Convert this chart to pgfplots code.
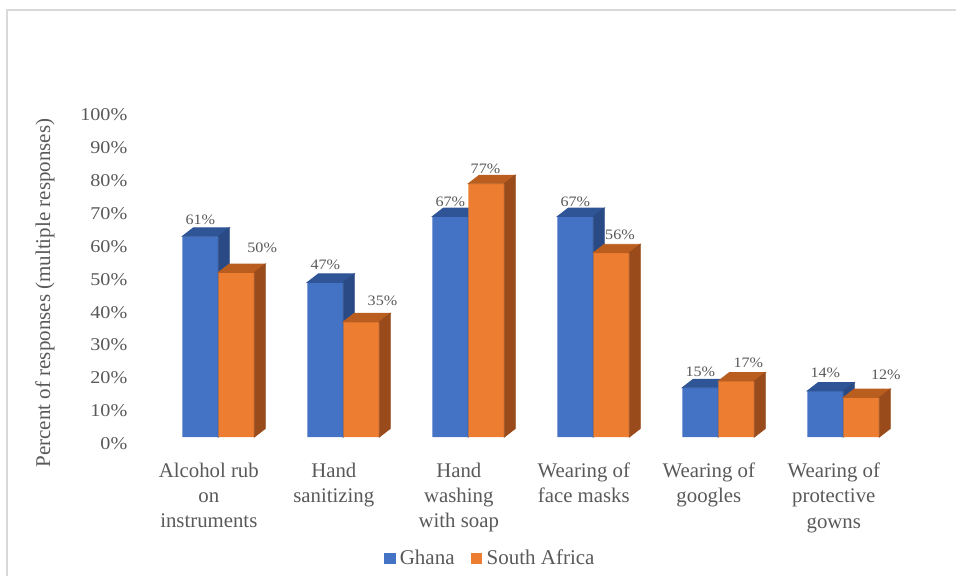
\documentclass[border=0pt]{standalone}
\usepackage{pgfplots}
\usepackage{pgfplotstable}
\usepackage{fontspec}
\pgfplotsset{compat=1.18}
\setmainfont{Liberation Serif}
\newfontfamily\numfont{Liberation Serif}[FakeStretch=1.12]

\definecolor{txtgray}{HTML}{595959}
\definecolor{gfront}{HTML}{4472C4}
\definecolor{gtop}{HTML}{2F5597}
\definecolor{gside}{HTML}{2A4A85}
\definecolor{sfront}{HTML}{ED7D31}
\definecolor{stop}{HTML}{BA5E20}
\definecolor{sside}{HTML}{994B1B}
\definecolor{framegray}{HTML}{D9D9D9}

% v: percent of responses; lx, ly: position of the value label (pt)
% relative to the centre of the bar's front top edge
\pgfplotstableread{
x v  lx    ly
0 61 0     8.3
1 47 0     8.55
2 67 0     7.3
3 67 0     7.3
4 15 0     8.0
5 14 0     9.2
}\ghana
\pgfplotstableread{
x v  lx    ly
0 50 12.95 12.25
1 35 10.6  10.7
2 77 -0.4  7.35
3 56 4.35  8.75
4 17 6.0   9.3
5 12 12.25 11.5
}\safrica

\pgfplotsset{
  /pgf/number format/assume math mode=true,
  % top and right faces of a box-shaped bar: #1 bar shift, #2 top colour, #3 side colour
  bar sides/.style n args={3}{%
    forget plot, scatter, only marks, mark=*, mark size=0pt, point meta=y,
    mark options={draw=none,fill=none},
    visualization depends on={\thisrow{v} \as \barval},
    scatter/@pre marker code/.code={%
      \pgfmathsetlengthmacro\barh{\barval*1.645pt}%
      \fill[#2] ({#1-9pt},0pt) -- ({#1+9pt},0pt) -- ({#1+14.5pt},4.25pt)
                -- ({#1-3.5pt},4.25pt) -- cycle;
      \fill[#3] ({#1+9pt},0pt) -- ({#1+14.5pt},4.25pt) -- ({#1+14.5pt},{4.25pt-\barh})
                -- ({#1+9pt},-\barh) -- cycle;
    },
    scatter/@post marker code/.code={},
  },
  % value labels above the bars: #1 bar shift
  bar labels/.style={%
    forget plot, scatter, only marks, mark=*, mark size=0pt, point meta=y,
    mark options={draw=none,fill=none},
    visualization depends on={\thisrow{v} \as \barval},
    visualization depends on={\thisrow{lx} \as \labx},
    visualization depends on={\thisrow{ly} \as \laby},
    scatter/@pre marker code/.code={%
      \node[font=\numfont\fontsize{7.2}{8}\selectfont, text=txtgray, inner sep=0pt]
        at ({#1+\labx pt},{\laby pt}) {\pgfmathprintnumber{\barval}\%};
    },
    scatter/@post marker code/.code={},
  },
}

\begin{document}
\begin{tikzpicture}
\begin{axis}[
  anchor=origin, at={(0pt,0pt)},
  x=62.5pt, y=1.645pt,
  xmin=-0.6, xmax=5.6, ymin=0, ymax=100,
  clip=false, clip marker paths=true,
  axis line style={draw=none},
  major tick length=0pt,
  xtick={0,...,5},
  xticklabels={{Alcohol rub\\on\\instruments},{Hand\\sanitizing},{Hand\\washing\\with soap},
                {Wearing of\\face masks},{Wearing of\\googles},{Wearing of\\protective\\gowns}},
  xticklabel style={align=center, font=\fontsize{10.4}{12.6}\selectfont, text=txtgray,
                    inner sep=0pt, yshift=-12.85pt},
  ytick={0,10,...,100},
  yticklabel={\pgfmathprintnumber{\tick}\%},
  yticklabel style={font=\numfont\fontsize{9}{11}\selectfont, text=txtgray,
                    inner sep=0pt, xshift=-3.05pt, yshift=-3.4pt},
  ylabel={Percent of responses (multiple responses)},
  ylabel style={at={(axis cs:-1.3104,43.77)}, anchor=center,
                font=\fontsize{10.5}{12}\selectfont, text=txtgray, inner sep=0pt},
  legend columns=2,
  legend style={at={(axis cs:2.262,-36.93)}, anchor=center, draw=none, fill=none,
                inner sep=0pt, font=\fontsize{10.5}{12}\selectfont, text=txtgray,
                nodes={inner sep=2.2pt},
                /tikz/every even column/.append style={column sep=6pt}},
]
% Ghana
\addplot[ybar, bar width=18pt, bar shift=-4.25pt, fill=gfront, draw=none, forget plot]
  table[x=x,y=v]{\ghana};
\addplot[bar sides={-4.25pt}{gtop}{gside}] table[x=x,y=v]{\ghana};
% South Africa
\addplot[ybar, bar width=18pt, bar shift=13.75pt, fill=sfront, draw=none, forget plot]
  table[x=x,y=v]{\safrica};
\addplot[bar sides={13.75pt}{stop}{sside}] table[x=x,y=v]{\safrica};
% value labels
\addplot[bar labels=-4.25pt] table[x=x,y=v]{\ghana};
\addplot[bar labels=13.75pt] table[x=x,y=v]{\safrica};

\addlegendimage{legend image code/.code={\fill[gfront] (0pt,-2.6pt) rectangle (5.2pt,2.6pt);}}
\addlegendentry{Ghana}
\addlegendimage{legend image code/.code={\fill[sfront] (0pt,-2.6pt) rectangle (5.2pt,2.6pt);}}
\addlegendentry{South Africa}
\end{axis}
\pgfresetboundingbox
\useasboundingbox (-104.4pt,-69pt) rectangle (373.6pt,218.5pt);
\draw[framegray, line width=0.8pt] (-100.9pt,-70pt) -- (-100.9pt,213.5pt) -- (375pt,213.5pt);
\end{tikzpicture}
\end{document}
